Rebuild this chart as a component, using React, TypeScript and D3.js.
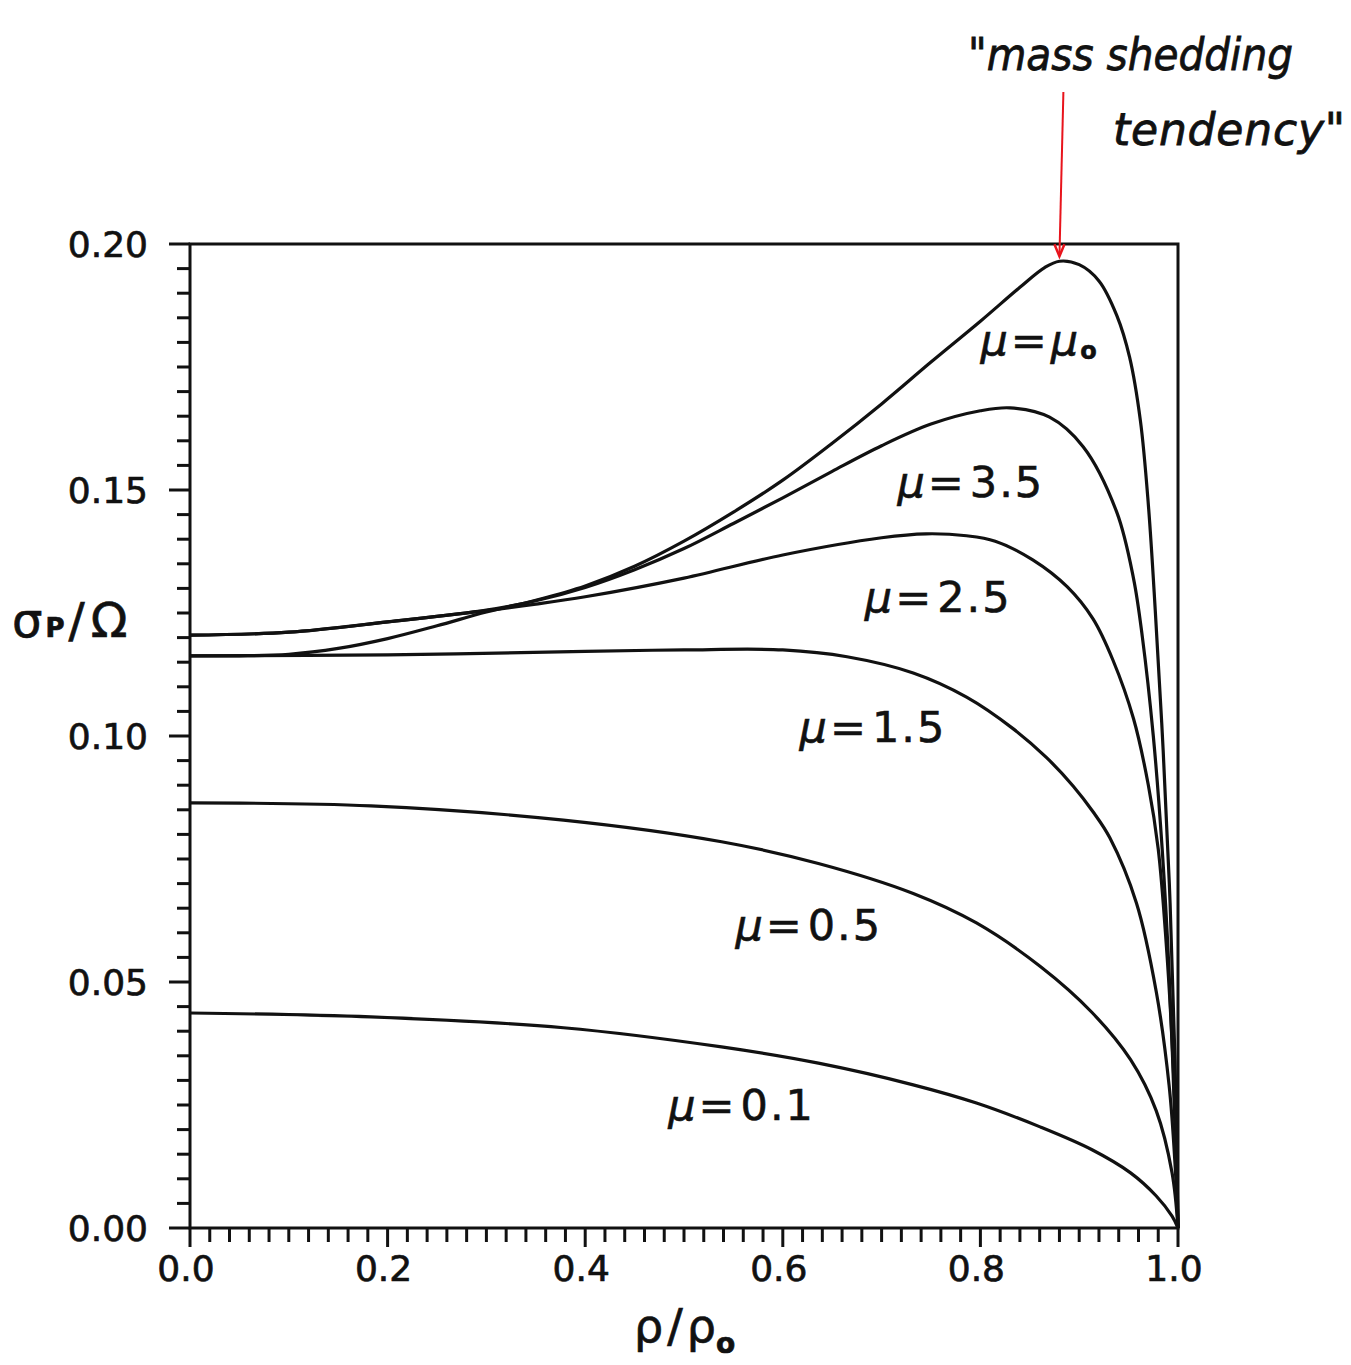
import React from 'react';
import * as d3 from 'd3';

// curves: [rho/rho0, sigmaP/Omega]
const muZero: [number, number][] = [
  [0, 0.1163], [0.05, 0.1163], [0.1, 0.1166], [0.15, 0.1178], [0.2, 0.1198],
  [0.25, 0.1224], [0.3, 0.1252], [0.35, 0.1276], [0.4, 0.1305], [0.45, 0.1345],
  [0.5, 0.1396], [0.55, 0.1455], [0.6, 0.152], [0.65, 0.1595], [0.7, 0.1675],
  [0.75, 0.176], [0.8, 0.1843], [0.84, 0.1912], [0.865, 0.1952], [0.88, 0.1965],
  [0.9, 0.1958], [0.92, 0.1925], [0.938, 0.1855], [0.951, 0.177], [0.962, 0.164],
  [0.97, 0.147], [0.977, 0.1255], [0.985, 0.097], [0.992, 0.066], [0.997, 0.034], [1.0, 0],
];
const mu35: [number, number][] = [
  [0, 0.1205], [0.1, 0.1211], [0.2, 0.1232], [0.3, 0.1256], [0.35, 0.1275],
  [0.4, 0.1302], [0.45, 0.1338], [0.5, 0.1381], [0.55, 0.1432], [0.6, 0.1484],
  [0.65, 0.1538], [0.7, 0.159], [0.75, 0.1634], [0.8, 0.1661], [0.83, 0.1667],
  [0.87, 0.1648], [0.904, 0.1588], [0.938, 0.1455], [0.955, 0.132], [0.964, 0.12],
  [0.975, 0.1], [0.984, 0.077], [0.991, 0.052], [0.996, 0.026], [1.0, 0],
];
const mu25: [number, number][] = [
  [0, 0.1205], [0.1, 0.1211], [0.2, 0.1232], [0.3, 0.1255], [0.35, 0.1268],
  [0.4, 0.1283], [0.5, 0.1321], [0.6, 0.1368], [0.7, 0.1403], [0.745, 0.1411],
  [0.786, 0.1407], [0.815, 0.1396], [0.853, 0.1358], [0.888, 0.1303], [0.914, 0.1238],
  [0.934, 0.1155], [0.955, 0.1035], [0.97, 0.09], [0.98, 0.077], [0.988, 0.058],
  [0.994, 0.038], [0.998, 0.018], [1.0, 0],
];
const mu15: [number, number][] = [
  [0, 0.1163], [0.2, 0.1165], [0.4, 0.1172], [0.5, 0.1175], [0.6, 0.1175],
  [0.665, 0.1161], [0.732, 0.1128], [0.786, 0.1079], [0.833, 0.1015], [0.867, 0.0956],
  [0.894, 0.0898], [0.914, 0.0846], [0.931, 0.0793], [0.958, 0.066], [0.978, 0.048],
  [0.991, 0.029], [0.997, 0.013], [1.0, 0],
];
const mu05: [number, number][] = [
  [0, 0.0864], [0.183, 0.0858], [0.378, 0.0829], [0.538, 0.0785], [0.636, 0.0741],
  [0.732, 0.068], [0.796, 0.062], [0.861, 0.0531], [0.913, 0.0438], [0.952, 0.0342],
  [0.978, 0.0238], [0.994, 0.0112], [1.0, 0],
];
const mu01: [number, number][] = [
  [0, 0.0437], [0.183, 0.0429], [0.378, 0.0407], [0.538, 0.0368], [0.636, 0.0335],
  [0.732, 0.0291], [0.796, 0.0254], [0.861, 0.0205], [0.913, 0.0159], [0.952, 0.0112],
  [0.978, 0.0065], [0.994, 0.0024], [1.0, 0],
];

const curves = [muZero, mu35, mu25, mu15, mu05, mu01];

// curve labels and where each starts (x, baseline y)
const labelTexts = ['μ0', '3.5', '2.5', '1.5', '0.5', '0.1'];
const labelPos: [number, number][] = [
  [0.8, 0.1774], [0.716, 0.1486], [0.683, 0.1252], [0.617, 0.0988], [0.552, 0.0585], [0.484, 0.022],
];

const xTickLabels = ['0.0', '0.2', '0.4', '0.6', '0.8', '1.0'];
const yTickLabels = ['0.00', '0.05', '0.10', '0.15', '0.20'];

const arrowFrom: [number, number] = [0.884, 0.2309];
const arrowTo: [number, number] = [0.88, 0.1975];

const W = 1351;
const H = 1365;
const margin = { left: 190, right: 173, top: 244, bottom: 137 };

export default function App() {
  const x = d3.scaleLinear().domain([0, 1]).range([margin.left, W - margin.right]);
  const y = d3.scaleLinear().domain([0, 0.2]).range([H - margin.bottom, margin.top]);

  const line = d3.line<[number, number]>()
    .x(d => x(d[0]))
    .y(d => y(d[1]))
    .curve(d3.curveCatmullRom.alpha(0.5));

  const yMinor = d3.range(0, 0.2001, 0.005);
  const xMinor = d3.range(0, 1.0001, 0.02);
  const ink = '#111';
  const font = '"DejaVu Sans", sans-serif';

  return (
    <div style={{ position: 'absolute', left: 0, top: 0 }}>
      <svg width={W} height={H} style={{ display: 'block', background: '#fff' }}>
        {/* frame */}
        <rect x={x(0)} y={y(0.2)} width={x(1) - x(0)} height={y(0) - y(0.2)}
          fill="none" stroke={ink} strokeWidth={3} />

        {/* y ticks */}
        {yMinor.map((v, i) => {
          const major = Math.round(v * 200) % 10 === 0;
          return (
            <line key={'yt' + i} x1={x(0) - (major ? 21 : 13)} x2={x(0)} y1={y(v)} y2={y(v)}
              stroke={ink} strokeWidth={3} />
          );
        })}
        {yTickLabels.map((t, i) => (
          <text key={'yl' + i} x={x(0) - 42} y={y(+t)} dy="0.36em" textAnchor="end"
            fontFamily={font} fontSize={36} fill={ink} stroke={ink} strokeWidth={0.7}>{t}</text>
        ))}

        {/* x ticks */}
        {xMinor.map((v, i) => {
          const major = Math.round(v * 50) % 10 === 0;
          return (
            <line key={'xt' + i} x1={x(v)} x2={x(v)} y1={y(0)} y2={y(0) + (major ? 19 : 14)}
              stroke={ink} strokeWidth={3} />
          );
        })}
        {xTickLabels.map((t, i) => (
          <text key={'xl' + i} x={x(+t) - 4} y={y(0) + 53} textAnchor="middle"
            fontFamily={font} fontSize={36} fill={ink} stroke={ink} strokeWidth={0.7}>{t}</text>
        ))}

        {/* axis titles */}
        <text x={12} y={637} fontFamily={font} fill={ink} stroke={ink} strokeWidth={0.7}>
          <tspan fontSize={48}>σ</tspan>
          <tspan fontSize={26} dx={3} fontWeight="bold">P</tspan>
          <tspan fontSize={48} dx={4}>/</tspan>
          <tspan fontSize={48} dx={6}>Ω</tspan>
        </text>
        <text x={634} y={1342} fontFamily={font} fill={ink} stroke={ink} strokeWidth={0.7}>
          <tspan fontSize={46}>ρ</tspan>
          <tspan fontSize={46} dx={4}>/</tspan>
          <tspan fontSize={46} dx={4}>ρ</tspan>
          <tspan fontSize={28} dy={11} fontWeight="bold">o</tspan>
        </text>

        {/* curves */}
        {curves.map((c, i) => (
          <path key={'c' + i} d={line(c) || ''} fill="none" stroke={ink} strokeWidth={3.2}
            strokeLinejoin="round" />
        ))}

        {/* curve labels */}
        {labelTexts.map((t, i) => (
          <text key={'lb' + i} x={x(labelPos[i][0])} y={y(labelPos[i][1])}
            fontFamily={font} fontSize={43} fill={ink} stroke={ink} strokeWidth={0.6}>
            <tspan fontStyle="italic">μ</tspan>
            <tspan dx={3}>=</tspan>
            {t === 'μ0' ? (
              <>
                <tspan fontStyle="italic" dx={4}>μ</tspan>
                <tspan fontSize={24} dy={4} dx={2} fontWeight="bold">o</tspan>
              </>
            ) : (
              <tspan dx={6} letterSpacing={2}>{t}</tspan>
            )}
          </text>
        ))}

        {/* annotation */}
        <line x1={x(arrowFrom[0])} y1={y(arrowFrom[1])} x2={x(arrowTo[0])} y2={y(arrowTo[1])}
          stroke="#e8141c" strokeWidth={2} />
        <path d={`M${x(arrowTo[0]) - 5},${y(arrowTo[1]) - 12} L${x(arrowTo[0])},${y(arrowTo[1])} L${x(arrowTo[0]) + 5},${y(arrowTo[1]) - 12}`}
          fill="none" stroke="#e8141c" strokeWidth={2.5} />
        <text x={968} y={70} fontFamily={font} fontStyle="italic" fontSize={44}
          fill={ink} stroke={ink} strokeWidth={0.8} textLength={325} lengthAdjust="spacingAndGlyphs">"mass shedding</text>
        <text x={1113} y={145} fontFamily={font} fontStyle="italic" fontSize={44}
          fill={ink} stroke={ink} strokeWidth={0.8} textLength={232} lengthAdjust="spacing">tendency"</text>
      </svg>
    </div>
  );
}
